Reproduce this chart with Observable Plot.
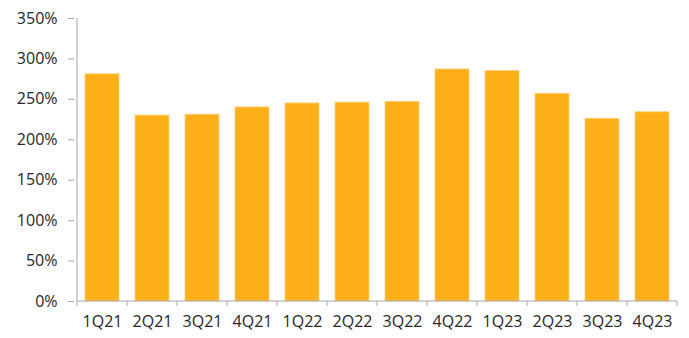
<!DOCTYPE html>
<html>
<head>
<meta charset="utf-8">
<script src="https://cdn.jsdelivr.net/npm/d3@7"></script>
<script src="https://cdn.jsdelivr.net/npm/@observablehq/plot@0.6"></script>
<style>
  html, body { margin: 0; padding: 0; background: #fff; }
  #chart svg { display: block; }
</style>
</head>
<body>
<div id="chart"></div>
<script>
const quarters = ["1Q21","2Q21","3Q21","4Q21","1Q22","2Q22","3Q22","4Q22","1Q23","2Q23","3Q23","4Q23"];
const values = [281, 230, 231, 240, 245, 246, 247, 287, 285, 257, 226, 234];
const yTicks = [0, 50, 100, 150, 200, 250, 300, 350];

const data = quarters.map((q, i) => ({q, v: values[i]}));

const axisColor = "#a6a6a6";
const textColor = "#262626";

function axisLines(index, scales, values, dim) {
  const g = d3.create("svg:g").attr("stroke", axisColor).attr("stroke-width", 1).attr("fill", "none");
  const x = scales.x, y = scales.y;
  const bw = x.bandwidth();
  const x0 = x(quarters[0]);
  const step = x.step();
  const left = x0 - (step - bw) / 2;
  const right = left + step * quarters.length;
  const y0 = y(0), yTop = y(yTicks[yTicks.length - 1]);
  g.append("line").attr("x1", left).attr("x2", left).attr("y1", yTop).attr("y2", y0 + 5);
  g.append("line").attr("x1", left).attr("x2", right).attr("y1", y0).attr("y2", y0);
  for (let i = 1; i <= quarters.length; i++) {
    const xx = left + step * i;
    g.append("line").attr("x1", xx).attr("x2", xx).attr("y1", y0).attr("y2", y0 + 5);
  }
  return g.node();
}

const chart = Plot.plot({
  width: 689,
  height: 338,
  marginLeft: 74,
  marginRight: 9,
  marginTop: 18,
  marginBottom: 37,
  style: {fontFamily: "'Open Sans', sans-serif", fontSize: "16px", background: "#fff"},
  x: {domain: quarters, padding: 0.33, paddingOuter: 0.165, axis: null},
  y: {domain: [0, 350], axis: null},
  marks: [
    Plot.barY(data, {x: "q", y: "v", fill: "#FDB01A", stroke: "#FDD27E", strokeWidth: 0.8, insetLeft: 0, insetRight: 0}),
    Plot.axisY({ticks: yTicks, tickFormat: d => d + "%", tickSize: 6, tickPadding: 11, stroke: axisColor, fill: textColor, fontSize: 16, label: null}),
    Plot.axisX({tickSize: 0, tickPadding: 14, fill: textColor, fontSize: 16, label: null}),
    axisLines
  ]
});

document.getElementById("chart").appendChild(chart);
</script>
</body>
</html>
